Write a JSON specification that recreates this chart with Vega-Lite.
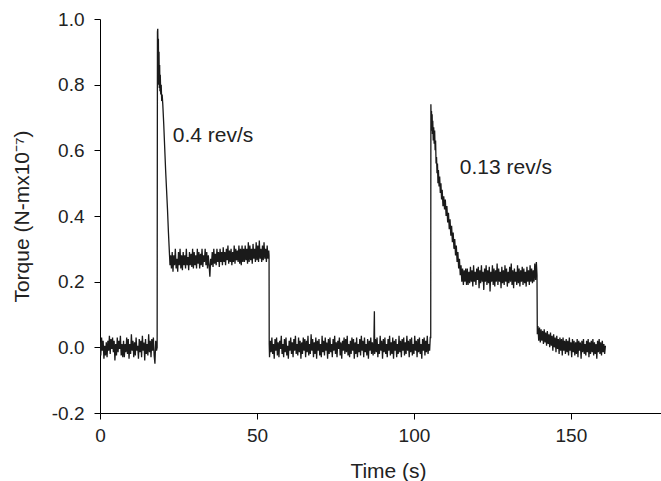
{
  "$schema": "https://vega.github.io/schema/vega-lite/v6.json",
  "width": 561,
  "height": 394,
  "autosize": {"type": "none"},
  "padding": {"left": 100, "top": 19, "right": 0, "bottom": 68},
  "background": "white",
  "config": {
    "view": {"stroke": null},
    "font": "Liberation Sans",
    "axis": {
      "grid": false,
      "domainColor": "#000",
      "tickColor": "#000",
      "tickSize": 6,
      "labelFlush": false,
      "labelOverlap": false,
      "labelFont": "Liberation Sans",
      "titleFont": "Liberation Sans",
      "labelFontSize": 19,
      "titleFontSize": 21,
      "titleFontWeight": "normal",
      "labelColor": "#222",
      "titleColor": "#222"
    }
  },
  "layer": [
    {
      "data": {"values": [
        {"t":0,"v":0.015},{"t":0.25,"v":-0.025},{"t":0.5,"v":0.03},{"t":0.75,"v":-0.01},{"t":1,"v":0.02},{"t":1.25,"v":-0.035},{"t":1.5,"v":0.005},{"t":1.75,"v":-0.025},{"t":2,"v":0.015},{"t":2.25,"v":-0.03},{"t":2.5,"v":0.02},{"t":2.75,"v":-0.01},{"t":3,"v":0.035},{"t":3.25,"v":-0.02},{"t":3.5,"v":0.025},{"t":3.75,"v":-0.005},{"t":4,"v":0.03},{"t":4.25,"v":-0.015},{"t":4.5,"v":0.02},{"t":4.75,"v":-0.04},{"t":5,"v":0.01},{"t":5.25,"v":-0.025},{"t":5.5,"v":0.03},{"t":5.75,"v":-0.015},{"t":6,"v":0.02},{"t":6.25,"v":-0.005},{"t":6.5,"v":0.035},{"t":6.75,"v":-0.025},{"t":7,"v":0.01},{"t":7.25,"v":-0.03},
        {"t":7.5,"v":0.02},{"t":7.75,"v":-0.03},{"t":8,"v":0.01},{"t":8.25,"v":-0.015},{"t":8.5,"v":0.03},{"t":8.75,"v":-0.02},{"t":9,"v":0.025},{"t":9.25,"v":-0.035},{"t":9.5,"v":0.01},{"t":9.75,"v":-0.02},{"t":10,"v":0.04},{"t":10.25,"v":-0.01},{"t":10.5,"v":0.02},{"t":10.75,"v":-0.03},{"t":11,"v":0.015},{"t":11.25,"v":-0.025},{"t":11.5,"v":0.03},{"t":11.75,"v":-0.01},{"t":12,"v":0.005},{"t":12.25,"v":-0.035},{"t":12.5,"v":0.025},{"t":12.75,"v":-0.015},{"t":13,"v":0.02},{"t":13.25,"v":-0.03},{"t":13.5,"v":0.035},{"t":13.75,"v":-0.01},{"t":14,"v":0.015},{"t":14.25,"v":-0.04},{"t":14.5,"v":0.025},{"t":14.75,"v":-0.02},{"t":15,"v":0.01},{"t":15.25,"v":-0.025},{"t":15.5,"v":0.04},{"t":15.75,"v":-0.015},{"t":16,"v":0.02},{"t":16.25,"v":-0.03},{"t":16.5,"v":0.025},{"t":16.75,"v":-0.01},{"t":17,"v":0.03},{"t":17.25,"v":-0.025},{"t":17.5,"v":-0.05},{"t":17.75,"v":0.02},{"t":18,"v":-0.01},{"t":18.2,"v":0.0},
        {"t":18.3,"v":0.96},{"t":18.4,"v":0.97},{"t":18.5,"v":0.88},{"t":18.6,"v":0.94},{"t":18.7,"v":0.8},{"t":18.8,"v":0.9},{"t":18.9,"v":0.79},{"t":19.0,"v":0.86},{"t":19.1,"v":0.78},{"t":19.2,"v":0.83},{"t":19.35,"v":0.77},{"t":19.5,"v":0.8},{"t":19.65,"v":0.75},{"t":19.8,"v":0.77},{"t":20.0,"v":0.74},{"t":20.3,"v":0.68},{"t":20.6,"v":0.61},{"t":20.9,"v":0.54},{"t":21.2,"v":0.48},{"t":21.5,"v":0.42},{"t":21.8,"v":0.35},{"t":22.1,"v":0.29},{"t":22.3,"v":0.25},
        {"t":22.5,"v":0.28},{"t":22.75,"v":0.24},{"t":23,"v":0.29},{"t":23.25,"v":0.23},{"t":23.5,"v":0.28},{"t":23.75,"v":0.25},{"t":24,"v":0.3},{"t":24.25,"v":0.24},{"t":24.5,"v":0.27},{"t":24.75,"v":0.23},{"t":25,"v":0.29},{"t":25.25,"v":0.25},{"t":25.5,"v":0.3},{"t":25.75,"v":0.24},{"t":26,"v":0.28},{"t":26.25,"v":0.235},{"t":26.5,"v":0.29},{"t":26.75,"v":0.25},{"t":27,"v":0.28},{"t":27.25,"v":0.24},{"t":27.5,"v":0.3},{"t":27.75,"v":0.25},{"t":28,"v":0.275},{"t":28.25,"v":0.235},{"t":28.5,"v":0.29},{"t":28.75,"v":0.25},{"t":29,"v":0.285},{"t":29.25,"v":0.245},{"t":29.5,"v":0.3},{"t":29.75,"v":0.24},
        {"t":30,"v":0.29},{"t":30.25,"v":0.25},{"t":30.5,"v":0.28},{"t":30.75,"v":0.24},{"t":31,"v":0.3},{"t":31.25,"v":0.255},{"t":31.5,"v":0.29},{"t":31.75,"v":0.24},{"t":32,"v":0.285},{"t":32.25,"v":0.25},{"t":32.5,"v":0.3},{"t":32.75,"v":0.245},{"t":33,"v":0.28},{"t":33.25,"v":0.26},{"t":33.5,"v":0.3},{"t":33.75,"v":0.25},{"t":34,"v":0.29},{"t":34.25,"v":0.24},{"t":34.5,"v":0.28},{"t":34.75,"v":0.25},{"t":35,"v":0.215},{"t":35.25,"v":0.27},{"t":35.5,"v":0.25},{"t":35.75,"v":0.29},{"t":36,"v":0.245},{"t":36.25,"v":0.3},{"t":36.5,"v":0.255},{"t":36.75,"v":0.285},{"t":37,"v":0.25},{"t":37.25,"v":0.3},{"t":37.5,"v":0.26},{"t":37.75,"v":0.29},
        {"t":38,"v":0.245},{"t":38.25,"v":0.3},{"t":38.5,"v":0.26},{"t":38.75,"v":0.29},{"t":39,"v":0.25},{"t":39.25,"v":0.305},{"t":39.5,"v":0.26},{"t":39.75,"v":0.29},{"t":40,"v":0.25},{"t":40.25,"v":0.3},{"t":40.5,"v":0.265},{"t":40.75,"v":0.31},{"t":41,"v":0.255},{"t":41.25,"v":0.295},{"t":41.5,"v":0.26},{"t":41.75,"v":0.3},{"t":42,"v":0.25},{"t":42.25,"v":0.29},{"t":42.5,"v":0.26},{"t":42.75,"v":0.31},{"t":43,"v":0.255},{"t":43.25,"v":0.3},{"t":43.5,"v":0.265},{"t":43.75,"v":0.295},{"t":44,"v":0.26},{"t":44.25,"v":0.31},{"t":44.5,"v":0.255},{"t":44.75,"v":0.3},{"t":45,"v":0.25},{"t":45.25,"v":0.31},{"t":45.5,"v":0.26},{"t":45.75,"v":0.3},
        {"t":46,"v":0.26},{"t":46.25,"v":0.31},{"t":46.5,"v":0.265},{"t":46.75,"v":0.3},{"t":47,"v":0.255},{"t":47.25,"v":0.32},{"t":47.5,"v":0.26},{"t":47.75,"v":0.31},{"t":48,"v":0.265},{"t":48.25,"v":0.3},{"t":48.5,"v":0.255},{"t":48.75,"v":0.315},{"t":49,"v":0.27},{"t":49.25,"v":0.3},{"t":49.5,"v":0.26},{"t":49.75,"v":0.32},{"t":50,"v":0.265},{"t":50.25,"v":0.31},{"t":50.5,"v":0.26},{"t":50.75,"v":0.325},{"t":51,"v":0.27},{"t":51.25,"v":0.3},{"t":51.5,"v":0.26},{"t":51.75,"v":0.31},{"t":52,"v":0.265},{"t":52.25,"v":0.32},{"t":52.5,"v":0.27},{"t":52.75,"v":0.3},{"t":53,"v":0.26},{"t":53.25,"v":0.31},{"t":53.5,"v":0.27},{"t":53.75,"v":0.295},{"t":53.85,"v":0.28},
        {"t":53.9,"v":0.01},{"t":54,"v":-0.03},{"t":54.25,"v":0.02},{"t":54.5,"v":-0.015},{"t":54.75,"v":0.03},{"t":55,"v":-0.02},{"t":55.25,"v":0.01},{"t":55.5,"v":-0.035},{"t":55.75,"v":0.025},{"t":56,"v":-0.01},{"t":56.25,"v":0.03},{"t":56.5,"v":-0.025},{"t":56.75,"v":0.015},{"t":57,"v":-0.03},{"t":57.25,"v":0.02},{"t":57.5,"v":-0.005},{"t":57.75,"v":0.035},{"t":58,"v":-0.02},{"t":58.25,"v":0.01},{"t":58.5,"v":-0.03},{"t":58.75,"v":0.025},{"t":59,"v":-0.015},{"t":59.25,"v":0.03},{"t":59.5,"v":-0.025},{"t":59.75,"v":0.005},{"t":60,"v":-0.035},{"t":60.25,"v":0.02},{"t":60.5,"v":-0.01},{"t":60.75,"v":0.03},{"t":61,"v":-0.02},{"t":61.25,"v":0.015},{"t":61.5,"v":-0.03},{"t":61.75,"v":0.025},{"t":62,"v":-0.01},{"t":62.25,"v":0.035},{"t":62.5,"v":-0.02},{"t":62.75,"v":0.01},{"t":63,"v":-0.025},{"t":63.25,"v":0.03},{"t":63.5,"v":-0.015},{"t":63.75,"v":0.02},{"t":64,"v":-0.035},{"t":64.25,"v":0.015},{"t":64.5,"v":-0.02},{"t":64.75,"v":0.03},{"t":65,"v":-0.01},{"t":65.25,"v":0.025},{"t":65.5,"v":-0.03},{"t":65.75,"v":0.02},{"t":66,"v":-0.015},{"t":66.25,"v":0.035},{"t":66.5,"v":-0.025},{"t":66.75,"v":0.01},{"t":67,"v":-0.02},{"t":67.25,"v":0.04},{"t":67.5,"v":-0.01},{"t":67.75,"v":0.025},{"t":68,"v":-0.03},{"t":68.25,"v":0.015},{"t":68.5,"v":-0.02},{"t":68.75,"v":0.03},{"t":69,"v":-0.035},{"t":69.25,"v":0.02},{"t":69.5,"v":-0.01},{"t":69.75,"v":0.025},{"t":70,"v":-0.025},{"t":70.25,"v":0.01},{"t":70.5,"v":-0.03},{"t":70.75,"v":0.035},{"t":71,"v":-0.015},{"t":71.25,"v":0.02},{"t":71.5,"v":-0.025},{"t":71.75,"v":0.03},{"t":72,"v":-0.01},{"t":72.25,"v":0.015},{"t":72.5,"v":-0.035},{"t":72.75,"v":0.025},{"t":73,"v":-0.02},{"t":73.25,"v":0.03},{"t":73.5,"v":-0.015},{"t":73.75,"v":0.01},{"t":74,"v":-0.03},{"t":74.25,"v":0.025},{"t":74.5,"v":-0.01},{"t":74.75,"v":0.035},{"t":75,"v":-0.02},{"t":75.25,"v":0.015},{"t":75.5,"v":-0.03},{"t":75.75,"v":0.02},{"t":76,"v":-0.005},{"t":76.25,"v":0.03},{"t":76.5,"v":-0.025},{"t":76.75,"v":0.015},{"t":77,"v":-0.035},{"t":77.25,"v":0.02},{"t":77.5,"v":-0.01},{"t":77.75,"v":0.03},{"t":78,"v":-0.02},{"t":78.25,"v":0.025},{"t":78.5,"v":-0.015},{"t":78.75,"v":0.035},{"t":79,"v":-0.025},{"t":79.25,"v":0.01},{"t":79.5,"v":-0.03},{"t":79.75,"v":0.02},{"t":80,"v":-0.02},{"t":80.25,"v":0.03},{"t":80.5,"v":-0.01},{"t":80.75,"v":0.025},{"t":81,"v":-0.035},{"t":81.25,"v":0.015},{"t":81.5,"v":-0.02},{"t":81.75,"v":0.03},{"t":82,"v":-0.03},{"t":82.25,"v":0.01},{"t":82.5,"v":-0.015},{"t":82.75,"v":0.025},{"t":83,"v":-0.025},{"t":83.25,"v":0.035},{"t":83.5,"v":-0.01},{"t":83.75,"v":0.02},{"t":84,"v":-0.03},{"t":84.25,"v":0.03},{"t":84.5,"v":-0.015},{"t":84.75,"v":0.01},{"t":85,"v":-0.025},{"t":85.25,"v":0.025},{"t":85.5,"v":-0.035},{"t":85.75,"v":0.02},{"t":86,"v":-0.01},{"t":86.25,"v":0.03},{"t":86.5,"v":-0.02},{"t":86.75,"v":0.015},{"t":87,"v":-0.025},{"t":87.25,"v":0.02},{"t":87.4,"v":0.11},{"t":87.5,"v":-0.02},{"t":87.75,"v":0.025},{"t":88,"v":-0.015},{"t":88.25,"v":0.03},{"t":88.5,"v":-0.03},{"t":88.75,"v":0.01},{"t":89,"v":-0.02},{"t":89.25,"v":0.035},{"t":89.5,"v":-0.01},{"t":89.75,"v":0.02},{"t":90,"v":-0.035},{"t":90.25,"v":0.025},{"t":90.5,"v":-0.015},{"t":90.75,"v":0.03},{"t":91,"v":-0.02},{"t":91.25,"v":0.01},{"t":91.5,"v":-0.03},{"t":91.75,"v":0.025},{"t":92,"v":-0.01},{"t":92.25,"v":0.035},{"t":92.5,"v":-0.025},{"t":92.75,"v":0.015},{"t":93,"v":-0.02},{"t":93.25,"v":0.03},{"t":93.5,"v":-0.035},{"t":93.75,"v":0.02},{"t":94,"v":-0.01},{"t":94.25,"v":0.025},{"t":94.5,"v":-0.03},{"t":94.75,"v":0.01},{"t":95,"v":-0.02},{"t":95.25,"v":0.035},{"t":95.5,"v":-0.015},{"t":95.75,"v":0.02},{"t":96,"v":-0.03},{"t":96.25,"v":0.025},{"t":96.5,"v":-0.01},{"t":96.75,"v":0.03},{"t":97,"v":-0.025},{"t":97.25,"v":0.015},{"t":97.5,"v":-0.02},{"t":97.75,"v":0.035},{"t":98,"v":-0.01},{"t":98.25,"v":0.02},{"t":98.5,"v":-0.03},{"t":98.75,"v":0.025},{"t":99,"v":-0.015},{"t":99.25,"v":0.03},{"t":99.5,"v":-0.025},{"t":99.75,"v":0.01},{"t":100,"v":-0.02},{"t":100.25,"v":0.035},{"t":100.5,"v":-0.01},{"t":100.75,"v":0.02},{"t":101,"v":-0.03},{"t":101.25,"v":0.025},{"t":101.5,"v":-0.015},{"t":101.75,"v":0.03},{"t":102,"v":-0.02},{"t":102.25,"v":0.01},{"t":102.5,"v":-0.035},{"t":102.75,"v":0.025},{"t":103,"v":-0.01},{"t":103.25,"v":0.03},{"t":103.5,"v":-0.025},{"t":103.75,"v":0.02},{"t":104,"v":-0.015},{"t":104.25,"v":0.035},{"t":104.5,"v":-0.02},{"t":104.75,"v":0.01},{"t":105,"v":-0.01},{"t":105.2,"v":0.03},{"t":105.35,"v":0.03},
        {"t":105.4,"v":0.74},{"t":105.5,"v":0.68},{"t":105.6,"v":0.72},{"t":105.7,"v":0.66},{"t":105.8,"v":0.71},{"t":105.9,"v":0.65},{"t":106.0,"v":0.69},{"t":106.15,"v":0.63},{"t":106.3,"v":0.67},{"t":106.45,"v":0.62},{"t":106.6,"v":0.66},{"t":106.75,"v":0.6},{"t":106.9,"v":0.63},{"t":107.05,"v":0.56},{"t":107.2,"v":0.58},{"t":107.35,"v":0.53},{"t":107.5,"v":0.56},{"t":107.65,"v":0.5},{"t":107.8,"v":0.54},{"t":108.0,"v":0.49},{"t":108.2,"v":0.52},{"t":108.4,"v":0.47},{"t":108.6,"v":0.5},{"t":108.8,"v":0.45},{"t":109.0,"v":0.48},{"t":109.25,"v":0.43},{"t":109.5,"v":0.46},{"t":109.75,"v":0.42},{"t":110.0,"v":0.45},{"t":110.25,"v":0.4},{"t":110.5,"v":0.43},{"t":110.75,"v":0.38},{"t":111.0,"v":0.41},{"t":111.25,"v":0.36},{"t":111.5,"v":0.39},{"t":111.75,"v":0.34},{"t":112.0,"v":0.37},{"t":112.25,"v":0.32},{"t":112.5,"v":0.35},{"t":112.75,"v":0.3},{"t":113.0,"v":0.33},{"t":113.25,"v":0.28},{"t":113.5,"v":0.31},{"t":113.75,"v":0.26},{"t":114.0,"v":0.29},{"t":114.25,"v":0.24},{"t":114.5,"v":0.27},{"t":114.75,"v":0.22},{"t":115.0,"v":0.25},{"t":115.25,"v":0.2},{"t":115.5,"v":0.24},{"t":115.75,"v":0.19},{"t":116.0,"v":0.235},{"t":116.25,"v":0.2},{"t":116.5,"v":0.24},{"t":116.75,"v":0.19},
        {"t":117,"v":0.24},{"t":117.25,"v":0.19},{"t":117.5,"v":0.23},{"t":117.75,"v":0.195},{"t":118,"v":0.245},{"t":118.25,"v":0.2},{"t":118.5,"v":0.235},{"t":118.75,"v":0.185},{"t":119,"v":0.25},{"t":119.25,"v":0.2},{"t":119.5,"v":0.23},{"t":119.75,"v":0.19},{"t":120,"v":0.24},{"t":120.25,"v":0.205},{"t":120.5,"v":0.245},{"t":120.75,"v":0.18},{"t":121,"v":0.235},{"t":121.25,"v":0.195},{"t":121.5,"v":0.25},{"t":121.75,"v":0.2},{"t":122,"v":0.23},{"t":122.25,"v":0.175},{"t":122.5,"v":0.24},{"t":122.75,"v":0.2},{"t":123,"v":0.25},{"t":123.25,"v":0.19},{"t":123.5,"v":0.235},{"t":123.75,"v":0.195},{"t":124,"v":0.245},{"t":124.25,"v":0.17},{"t":124.5,"v":0.23},{"t":124.75,"v":0.2},{"t":125,"v":0.25},{"t":125.25,"v":0.19},{"t":125.5,"v":0.24},{"t":125.75,"v":0.185},{"t":126,"v":0.235},{"t":126.25,"v":0.2},{"t":126.5,"v":0.255},{"t":126.75,"v":0.19},{"t":127,"v":0.24},{"t":127.25,"v":0.2},{"t":127.5,"v":0.23},{"t":127.75,"v":0.18},{"t":128,"v":0.245},{"t":128.25,"v":0.195},{"t":128.5,"v":0.235},{"t":128.75,"v":0.19},{"t":129,"v":0.25},{"t":129.25,"v":0.2},{"t":129.5,"v":0.24},{"t":129.75,"v":0.185},{"t":130,"v":0.23},{"t":130.25,"v":0.195},{"t":130.5,"v":0.245},{"t":130.75,"v":0.2},{"t":131,"v":0.255},{"t":131.25,"v":0.19},{"t":131.5,"v":0.235},{"t":131.75,"v":0.18},{"t":132,"v":0.24},{"t":132.25,"v":0.2},{"t":132.5,"v":0.23},{"t":132.75,"v":0.19},{"t":133,"v":0.25},{"t":133.25,"v":0.195},{"t":133.5,"v":0.24},{"t":133.75,"v":0.185},{"t":134,"v":0.235},{"t":134.25,"v":0.2},{"t":134.5,"v":0.245},{"t":134.75,"v":0.19},{"t":135,"v":0.24},{"t":135.25,"v":0.195},{"t":135.5,"v":0.23},{"t":135.75,"v":0.185},{"t":136,"v":0.245},{"t":136.25,"v":0.2},{"t":136.5,"v":0.235},{"t":136.75,"v":0.19},{"t":137,"v":0.25},{"t":137.25,"v":0.2},{"t":137.5,"v":0.24},{"t":137.75,"v":0.195},{"t":138,"v":0.235},{"t":138.25,"v":0.2},{"t":138.5,"v":0.255},{"t":138.75,"v":0.205},{"t":139,"v":0.26},{"t":139.2,"v":0.22},
        {"t":139.3,"v":0.04},{"t":139.5,"v":0.065},{"t":139.75,"v":0.02},{"t":140,"v":0.06},{"t":140.25,"v":0.015},{"t":140.5,"v":0.055},{"t":140.75,"v":0.02},{"t":141,"v":0.05},{"t":141.25,"v":0.01},{"t":141.5,"v":0.055},{"t":141.75,"v":0.015},{"t":142,"v":0.045},{"t":142.25,"v":0.005},{"t":142.5,"v":0.05},{"t":142.75,"v":0.01},{"t":143,"v":0.04},{"t":143.25,"v":0.0},{"t":143.5,"v":0.045},{"t":143.75,"v":0.005},{"t":144,"v":0.035},{"t":144.25,"v":-0.01},{"t":144.5,"v":0.04},{"t":144.75,"v":0.0},{"t":145,"v":0.03},{"t":145.25,"v":-0.015},{"t":145.5,"v":0.035},{"t":145.75,"v":-0.005},{"t":146,"v":0.025},{"t":146.25,"v":-0.02},{"t":146.5,"v":0.03},{"t":146.75,"v":-0.01},{"t":147,"v":0.025},{"t":147.25,"v":-0.025},{"t":147.5,"v":0.03},{"t":147.75,"v":-0.01},{"t":148,"v":0.02},{"t":148.25,"v":-0.02},{"t":148.5,"v":0.025},{"t":148.75,"v":-0.015},{"t":149,"v":0.02},{"t":149.25,"v":-0.025},{"t":149.5,"v":0.03},{"t":149.75,"v":-0.01},{"t":150,"v":0.015},{"t":150.25,"v":-0.03},{"t":150.5,"v":0.025},{"t":150.75,"v":-0.015},{"t":151,"v":0.02},{"t":151.25,"v":-0.025},{"t":151.5,"v":0.015},{"t":151.75,"v":-0.02},{"t":152,"v":0.025},{"t":152.25,"v":-0.03},{"t":152.5,"v":0.02},{"t":152.75,"v":-0.01},{"t":153,"v":0.015},{"t":153.25,"v":-0.035},{"t":153.5,"v":0.02},{"t":153.75,"v":-0.015},{"t":154,"v":0.025},{"t":154.25,"v":-0.02},{"t":154.5,"v":0.01},{"t":154.75,"v":-0.025},{"t":155,"v":0.02},{"t":155.25,"v":-0.015},{"t":155.5,"v":0.025},{"t":155.75,"v":-0.03},{"t":156,"v":0.015},{"t":156.25,"v":-0.02},{"t":156.5,"v":0.02},{"t":156.75,"v":-0.015},{"t":157,"v":0.025},{"t":157.25,"v":-0.025},{"t":157.5,"v":0.015},{"t":157.75,"v":-0.02},{"t":158,"v":0.01},{"t":158.25,"v":-0.035},{"t":158.5,"v":0.02},{"t":158.75,"v":-0.015},{"t":159,"v":0.025},{"t":159.25,"v":-0.02},{"t":159.5,"v":0.015},{"t":159.75,"v":-0.025},{"t":160,"v":0.02},{"t":160.25,"v":-0.015},{"t":160.5,"v":0.01},{"t":160.75,"v":-0.02},{"t":161,"v":0.005}
      ]},
      "mark": {"type": "line", "color": "#1a1a1a", "strokeWidth": 1.3, "clip": true},
      "encoding": {
        "x": {"field": "t", "type": "quantitative",
              "scale": {"domain": [0, 178.7], "nice": false, "zero": false},
              "axis": {"values": [0, 50, 100, 150], "title": "Time (s)", "labelPadding": 7, "titleX": 288, "titleY": 58, "titleBaseline": "middle"}},
        "y": {"field": "v", "type": "quantitative",
              "scale": {"domain": [-0.2, 1.0], "nice": false, "zero": false},
              "axis": {"values": [-0.2, 0, 0.2, 0.4, 0.6, 0.8, 1.0], "labelExpr": "datum.value < 0 ? '-' + format(-datum.value, '.1f') : format(datum.value, '.1f')", "title": "Torque (N-mx10⁻⁷)", "labelPadding": 10, "titleX": -78, "titleY": 197, "titleBaseline": "middle", "titleAlign": "center"}}
      }
    },
    {
      "data": {"values": [
        {"t": 23.2, "v": 0.644, "label": "0.4 rev/s"},
        {"t": 114.6, "v": 0.546, "label": "0.13 rev/s"}
      ]},
      "mark": {"type": "text", "align": "left", "baseline": "middle", "fontSize": 21, "color": "#222", "font": "Liberation Sans"},
      "encoding": {
        "x": {"field": "t", "type": "quantitative"},
        "y": {"field": "v", "type": "quantitative"},
        "text": {"field": "label"}
      }
    }
  ]
}
